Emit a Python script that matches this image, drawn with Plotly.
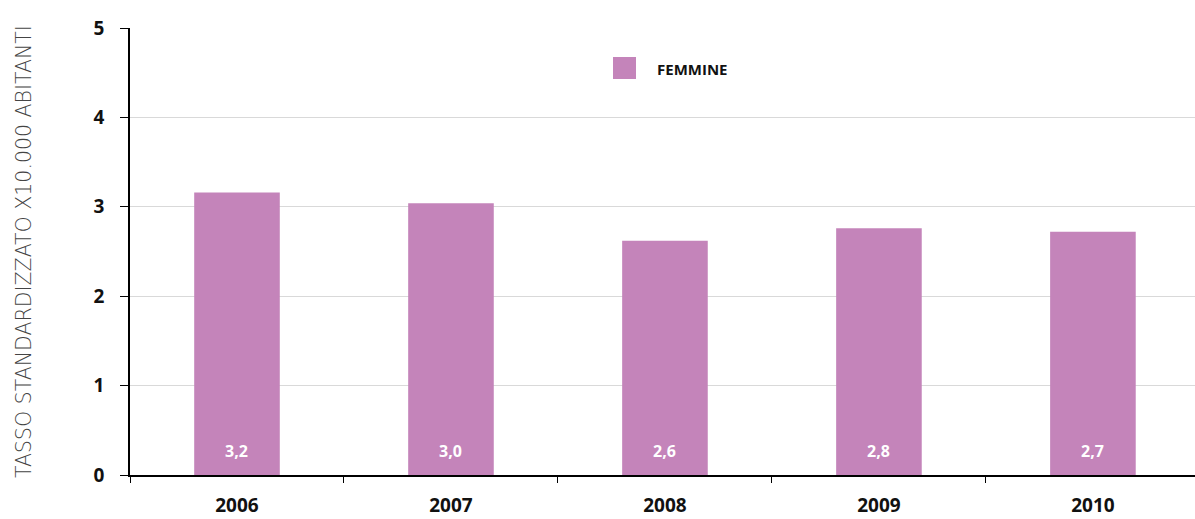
import plotly.graph_objects as go

# Standardised rate per 10,000 inhabitants, females
anni = ["2006", "2007", "2008", "2009", "2010"]
femmine = [3.16, 3.04, 2.62, 2.76, 2.72]
serie = "FEMMINE"
titolo_y = "TASSO STANDARDIZZATO X10.000 ABITANTI"
colore = "#C484BA"

fig = go.Figure()
fig.add_trace(go.Bar(
    x=anni,
    y=femmine,
    name=serie,
    marker=dict(color=colore, line=dict(width=0)),
    showlegend=False,
))

# value labels near the base of each bar (category index on the x axis)
for i, val in enumerate(femmine):
    fig.add_annotation(
        x=i, y=0, yref="y", xref="x",
        text=f"{val:.1f}".replace(".", ","),
        showarrow=False, yanchor="middle", yshift=24,
        font=dict(family="Open Sans", size=16, color="white", weight="bold"),
    )

# legend swatch and label
L, W, T, H = 130, 1065, 28, 447
fig.add_shape(type="rect", xref="paper", yref="paper",
              x0=(613 - L) / W, x1=(636 - L) / W,
              y0=(T + H - 79) / H, y1=(T + H - 57) / H,
              fillcolor=colore, line=dict(width=0))
fig.add_annotation(xref="paper", yref="paper",
                   x=(655 - L) / W, y=(T + H - 69) / H,
                   text=serie, showarrow=False, xanchor="left", yanchor="middle",
                   font=dict(family="Open Sans", size=15, color="#111", weight="bold"))

fig.update_layout(
    width=1195, height=519,
    margin=dict(l=130, r=0, t=28, b=44),
    plot_bgcolor="white", paper_bgcolor="white",
    separators=",.",
    bargap=0.6,
    font=dict(family="Open Sans", color="#111"),
)
fig.update_xaxes(
    type="category",
    range=[-0.5, 4.477],
    showline=True, linecolor="black", linewidth=1.5,
    ticks="outside", tickson="boundaries", ticklen=6, tickcolor="black",
    tickfont=dict(family="Open Sans", size=19, color="#111", weight="bold"),
    ticklabelstandoff=12,
    showgrid=False,
)
fig.update_yaxes(
    range=[0, 5], dtick=1,
    showline=True, linecolor="black", linewidth=1.5,
    ticks="outside", ticklen=8, tickcolor="black",
    tickfont=dict(family="Open Sans", size=19, color="#111", weight="bold"),
    ticklabelstandoff=12,
    showgrid=True, gridcolor="#D9D9D9", gridwidth=1,
    zeroline=False,
    title=dict(text=titolo_y, standoff=56,
               font=dict(family="DejaVu Sans", size=20.5, color="#444", weight=300)),
)

fig.write_html("out.html")
